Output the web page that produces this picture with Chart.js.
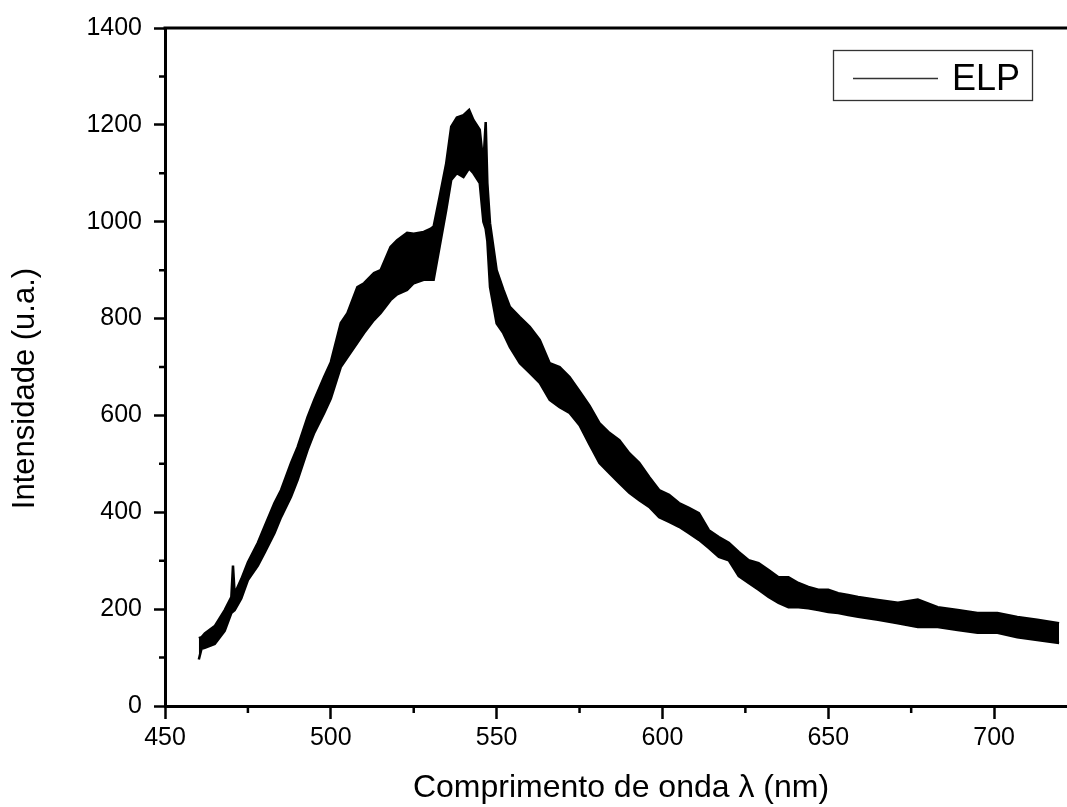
<!DOCTYPE html>
<html>
<head>
<meta charset="utf-8">
<script src="https://cdn.jsdelivr.net/npm/chart.js@4.4.1/dist/chart.umd.min.js"></script>
<style>
  html, body { margin: 0; padding: 0; background: #fff; overflow: hidden; }
</style>
</head>
<body>
<canvas id="spectrum" width="1080" height="807"></canvas>
<script>
// wavelength (nm) and the upper / lower edge of the noisy ELP band (u.a.)
const wavelength = [
  460.2, 461, 462, 465, 468, 470, 470.5, 471, 473, 475, 478, 480, 483, 485, 488, 490,
  493, 495, 498, 500, 503, 505, 508, 510, 513, 515, 518, 520, 523, 525, 528, 530, 531,
  532.8, 534.8, 536.3, 538, 540, 541.7, 543, 544.9, 546, 546.7, 547.2, 548, 550, 552,
  554, 557, 560, 563, 566, 569, 572, 575, 578, 581, 584, 587, 590, 593, 596, 599, 602,
  605, 608, 611, 614, 617, 620, 623, 626, 629, 632, 635, 638, 641, 644, 647, 650, 653,
  656, 659, 665, 671, 677, 683, 689, 695, 701, 707, 713, 719.6
];
const upperEnvelope = [
  140, 142, 150, 165, 198, 225, 290, 232, 262, 297, 337, 370, 419, 446, 502, 535,
  597, 632, 680, 710, 791, 811, 865, 873, 894, 900, 948, 962, 977, 975, 979, 985, 990,
  1051, 1121, 1196, 1215, 1220, 1231, 1210, 1190, 1120, 1206, 1080, 997, 900, 860,
  824, 803, 783, 756, 708, 700, 679, 650, 620, 584, 564, 549, 522, 502, 473, 446, 436,
  419, 409, 398, 363, 349, 337, 318, 301, 295, 281, 266, 266, 254, 246, 240, 240, 233,
  229, 225, 219, 213, 220, 204, 198, 192, 192, 184, 178, 171
];
const lowerEnvelope = [
  96, 118, 120, 128, 155, 192, 195, 198, 222, 260, 290, 316, 357, 390, 432, 467,
  529, 564, 605, 635, 700, 720, 750, 770, 797, 811, 838, 850, 859, 873, 880, 880, 880,
  948, 1024, 1086, 1100, 1092, 1110, 1100, 1080, 1000, 985, 960, 865, 790, 770,
  741, 708, 688, 667, 632, 617, 605, 580, 540, 502, 481, 460, 440, 425, 411, 390, 380,
  370, 357, 343, 326, 308, 301, 268, 254, 240, 225, 213, 204, 204, 202, 198, 194, 192,
  188, 184, 178, 171, 163, 163, 157, 151, 151, 142, 136, 130
];
const seriesName = 'ELP';
const xTicks = [450, 500, 550, 600, 650, 700];
const xMinorTicks = [475, 525, 575, 625, 675, 725];
const yTicks = [0, 200, 400, 600, 800, 1000, 1200, 1400];
const yMinorTicks = [100, 300, 500, 700, 900, 1100, 1300];

const FONT = '"Liberation Sans", Arial, sans-serif';

const frameExtras = {
  id: 'frameExtras',
  afterDraw(chart) {
    const { ctx, chartArea: a, scales: { x, y } } = chart;
    ctx.save();
    ctx.strokeStyle = '#000';
    // top frame line
    ctx.lineWidth = 3;
    ctx.beginPath();
    ctx.moveTo(a.left - 1.5, a.top);
    ctx.lineTo(a.right, a.top);
    ctx.stroke();
    // minor ticks
    ctx.lineWidth = 2.5;
    ctx.beginPath();
    xMinorTicks.forEach(v => {
      const px = x.getPixelForValue(v);
      ctx.moveTo(px, a.bottom);
      ctx.lineTo(px, a.bottom + 7);
    });
    yMinorTicks.forEach(v => {
      const py = y.getPixelForValue(v);
      ctx.moveTo(a.left, py);
      ctx.lineTo(a.left - 6, py);
    });
    ctx.stroke();
    // legend box
    ctx.strokeStyle = '#333';
    ctx.lineWidth = 1.3;
    ctx.strokeRect(833.5, 50.5, 199, 50);
    ctx.lineWidth = 1.5;
    ctx.beginPath();
    ctx.moveTo(853, 78.5);
    ctx.lineTo(938, 78.5);
    ctx.stroke();
    ctx.fillStyle = '#000';
    ctx.font = '36px ' + FONT;
    ctx.textBaseline = 'alphabetic';
    ctx.fillText(chart.data.datasets[0].label, 952, 90);
    ctx.restore();
  }
};

new Chart(document.getElementById('spectrum'), {
  type: 'line',
  data: {
    datasets: [
      {
        label: seriesName,
        data: wavelength.map((w, i) => ({ x: w, y: upperEnvelope[i] })),
        borderColor: '#000',
        backgroundColor: '#000',
        borderWidth: 2.5,
        pointRadius: 0,
        fill: '+1'
      },
      {
        label: seriesName + ' (min)',
        data: wavelength.map((w, i) => ({ x: w, y: lowerEnvelope[i] })),
        borderColor: '#000',
        borderWidth: 2.5,
        pointRadius: 0,
        fill: false
      }
    ]
  },
  options: {
    responsive: false,
    animation: false,
    devicePixelRatio: 1,
    layout: { padding: { top: 28, right: 3, left: 0, bottom: 0 } },
    plugins: {
      legend: { display: false },
      tooltip: { enabled: false }
    },
    scales: {
      x: {
        type: 'linear',
        min: 450,
        max: 725,
        afterBuildTicks: s => { s.ticks = xTicks.map(v => ({ value: v })); },
        afterFit: s => { s.height = 101; },
        ticks: {
          color: '#000', font: { family: FONT, size: 25 }, padding: 4,
          maxRotation: 0, autoSkip: false, format: { useGrouping: false }
        },
        grid: { drawOnChartArea: false, tickLength: 13, tickWidth: 2.5, tickColor: '#000' },
        border: { display: true, color: '#000', width: 3 },
        title: {
          display: true,
          text: 'Comprimento de onda λ (nm)',
          color: '#000',
          font: { family: FONT, size: 32 },
          padding: { top: 0, bottom: 0 }
        }
      },
      y: {
        min: 0,
        max: 1400,
        afterBuildTicks: s => { s.ticks = yTicks.map(v => ({ value: v })); },
        afterFit: s => { s.width = 165; },
        ticks: {
          color: '#000', font: { family: FONT, size: 25 }, padding: 12,
          format: { useGrouping: false }
        },
        grid: { drawOnChartArea: false, tickLength: 11, tickWidth: 2.5, tickColor: '#000' },
        border: { display: true, color: '#000', width: 3 },
        title: {
          display: true,
          text: 'Intensidade (u.a.)     ',
          color: '#000',
          font: { family: FONT, size: 31 },
          padding: { top: 7, bottom: 0 }
        }
      }
    }
  },
  plugins: [frameExtras]
});
</script>
</body>
</html>
